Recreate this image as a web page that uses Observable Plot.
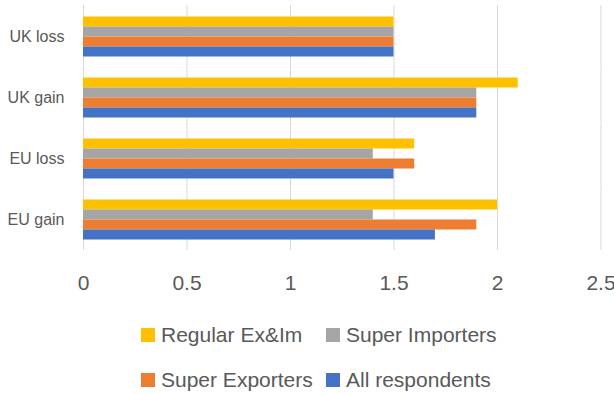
<!DOCTYPE html>
<html>
<head>
<meta charset="utf-8">
<script src="https://cdn.jsdelivr.net/npm/d3@7"></script>
<script src="https://cdn.jsdelivr.net/npm/@observablehq/plot@0.6"></script>
<style>
  html, body { margin: 0; padding: 0; background: #fff; }
  #chart { width: 614px; height: 394px; position: relative; font-family: "Liberation Sans", Arial, sans-serif; color: #595959; }
  #legend { position: relative; height: 94px; }
  .item { position: absolute; display: flex; align-items: center; font-size: 21px; white-space: nowrap; }
  .sw { width: 14px; height: 14px; margin-right: 6px; flex: none; }
</style>
</head>
<body>
<div id="chart"></div>
<script>
const categories = ["UK loss", "UK gain", "EU loss", "EU gain"];
const seriesNames = ["Regular Ex&Im", "Super Importers", "Super Exporters", "All respondents"];
const seriesColors = ["#FFC000", "#A5A5A5", "#ED7D31", "#4472C4"];
const regularExIm = [1.5, 2.1, 1.6, 2.0];
const superImporters = [1.5, 1.9, 1.4, 1.4];
const superExporters = [1.5, 1.9, 1.6, 1.9];
const allRespondents = [1.5, 1.9, 1.5, 1.7];
const xTicks = [0, 0.5, 1, 1.5, 2, 2.5];

const seriesValues = [regularExIm, superImporters, superExporters, allRespondents];
const data = [];
categories.forEach((c, i) => {
  seriesNames.forEach((s, j) => data.push({category: c, series: s, value: seriesValues[j][i]}));
});

const plot = Plot.plot({
  width: 614,
  height: 300,
  marginTop: 5.5,
  marginBottom: 49.5,
  marginLeft: 83,
  marginRight: 13.5,
  style: {fontFamily: "'Liberation Sans', Arial, sans-serif", color: "#595959", background: "#fff"},
  x: {domain: [0, 2.5], axis: null},
  y: {domain: seriesNames, axis: null, padding: 0},
  fy: {domain: categories, axis: null, paddingInner: 0.31, paddingOuter: 0.16},
  color: {domain: seriesNames, range: seriesColors},
  marks: [
    Plot.ruleX(xTicks, {x: d => d, stroke: "#D9D9D9", strokeWidth: 1, insetTop: -10, insetBottom: -10}),
    Plot.barX(data, {x: "value", y: "series", fy: "category", fill: "series"}),
    Plot.axisX({ticks: xTicks, tickSize: 0, tickPadding: 35, fontSize: 21, fill: "#595959", label: null, tickFormat: d => String(d)}),
    Plot.axisFy({anchor: "left", tickSize: 0, tickPadding: 19, fontSize: 16, fill: "#595959", label: null})
  ]
});

const chart = document.getElementById("chart");
chart.appendChild(plot);

const legend = document.createElement("div");
legend.id = "legend";
const positions = [[141, 35], [326, 35], [141, 80], [326, 80]];
seriesNames.forEach((s, i) => {
  const it = document.createElement("div");
  it.className = "item";
  it.style.left = positions[i][0] + "px";
  it.style.top = (positions[i][1] - 13) + "px";
  it.style.height = "26px";
  const sw = document.createElement("span");
  sw.className = "sw";
  sw.style.background = seriesColors[i];
  const tx = document.createElement("span");
  tx.textContent = s;
  it.appendChild(sw);
  it.appendChild(tx);
  legend.appendChild(it);
});
chart.appendChild(legend);
</script>
</body>
</html>
